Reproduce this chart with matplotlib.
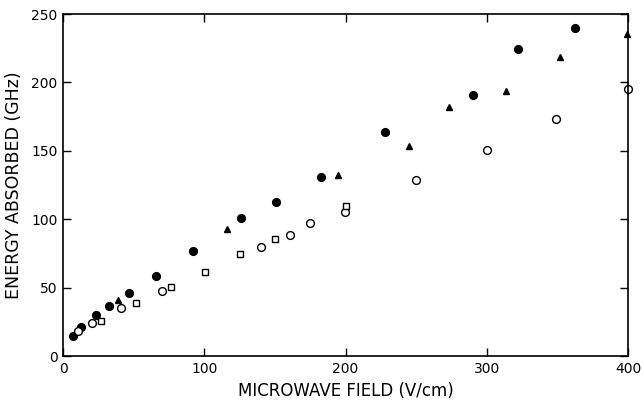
import matplotlib.pyplot as plt

plt.rcParams['font.family'] = ['DejaVu Sans']

# Data
dicht_x = [6.9, 12.5, 23.1, 32.6, 46.5, 65.6, 92.0, 126.0, 150.6, 182.9, 228.0, 290.0, 321.9, 362.7]
dicht_y = [14.4, 21.4, 30.2, 36.5, 45.8, 58.5, 76.5, 100.6, 112.6, 131.1, 164.0, 190.8, 224.2, 239.5]

open_x = [10.8, 20.3, 40.8, 70.3, 140.0, 160.5, 174.9, 199.6, 249.7, 300.0, 349.2, 399.8]
open_y = [18.1, 24.4, 34.9, 47.7, 79.7, 88.2, 97.2, 105.3, 128.9, 150.6, 173.0, 195.2]

vierkant_x = [26.9, 51.5, 76.2, 100.5, 125.3, 150.3, 200.1]
vierkant_y = [25.6, 38.7, 50.4, 61.6, 74.3, 85.3, 109.6]

driehoek_x = [38.7, 115.9, 194.5, 244.7, 273.3, 313.8, 352.1, 399.3]
driehoek_y = [40.9, 92.8, 132.1, 153.3, 182.2, 193.7, 218.8, 235.4]

fig = plt.figure(figsize=(6.43, 4.0), dpi=100)
ax = fig.add_axes([63 / 643, 44 / 400, 565 / 643, 342 / 400])

ax.plot(dicht_x, dicht_y, 'o', color='black', markersize=5.6, clip_on=False)
ax.plot(open_x, open_y, 'o', markerfacecolor='white', markeredgecolor='black',
        markeredgewidth=1.0, markersize=5.6, clip_on=False)
ax.plot(vierkant_x, vierkant_y, 's', markerfacecolor='white', markeredgecolor='black',
        markeredgewidth=1.0, markersize=4.4, clip_on=False)
ax.plot(driehoek_x, driehoek_y, '^', color='black', markersize=4.3, clip_on=False)

ax.set_xlim(0, 400)
ax.set_ylim(0, 250)
ax.set_xticks([0, 100, 200, 300, 400])
ax.set_yticks([0, 50, 100, 150, 200, 250])
ax.tick_params(direction='in', length=6, width=1, top=True, right=True,
               labelsize=10, pad=4)
for s in ax.spines.values():
    s.set_linewidth(1.2)

ax.set_xlabel('MICROWAVE FIELD (V/cm)', fontsize=12, labelpad=5)
ax.set_ylabel('ENERGY ABSORBED (GHz)', fontsize=12.5, labelpad=6)

fig.savefig('out.png', dpi=100)
